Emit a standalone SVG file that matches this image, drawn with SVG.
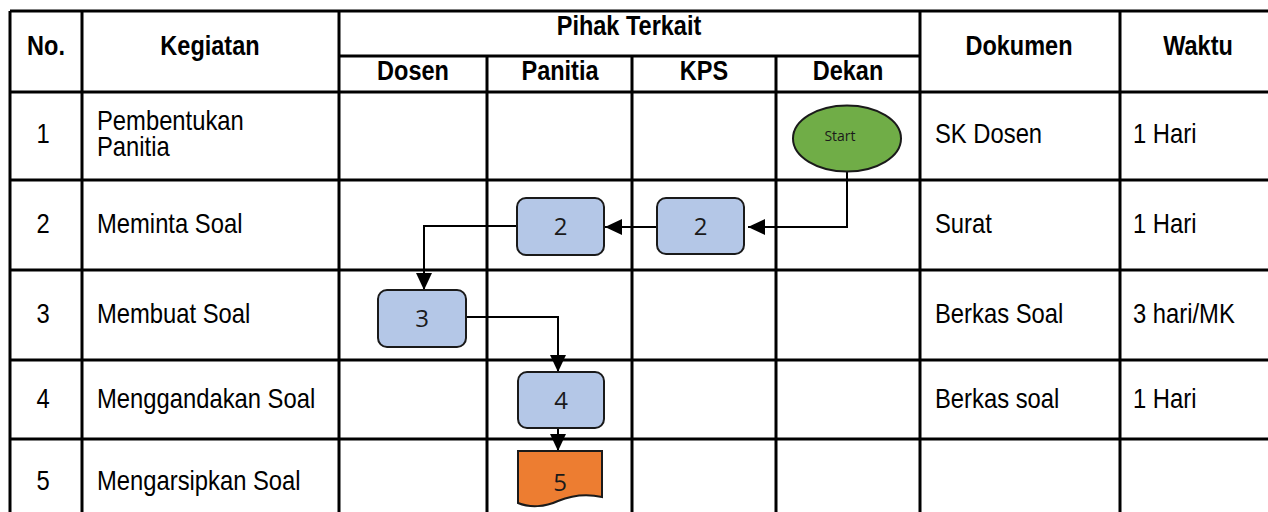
<svg xmlns="http://www.w3.org/2000/svg" width="1268" height="512" viewBox="0 0 1268 512">
<style>
.grid{stroke:#000;stroke-width:3;fill:none}
.hd{font-family:"Liberation Sans Narrow","Arial Narrow","Liberation Sans",sans-serif;font-weight:bold;font-size:28px;fill:#000;text-anchor:middle}
.tx{font-family:"Liberation Sans Narrow","Arial Narrow","Liberation Sans",sans-serif;font-size:28px;fill:#000}
.num{text-anchor:middle}
.box{fill:#B4C7E7;stroke:#1a1a1a;stroke-width:2}
.lbl{font-family:"Open Sans","Noto Sans",sans-serif;font-size:24px;fill:#1a1a1a;text-anchor:middle}
.conn{stroke:#000;stroke-width:2;fill:none}
</style>
<defs>
<marker id="arr" markerUnits="userSpaceOnUse" markerWidth="18" markerHeight="18" viewBox="0 0 18 18" refX="17" refY="9" orient="auto">
<path d="M0,1 L17,9 L0,17 Z" fill="#000"/>
</marker>
</defs>
<rect width="1268" height="512" fill="#fff"/>
<g id="table">
<path class="grid" d="M10,11 H1269 M10,11 V513 M82,11 V513 M339,11 V513 M920,11 V513 M1120,11 V513 M487,56 V513 M632,56 V513 M776,56 V513 M339,56 H920 M10,92 H1269 M10,180 H1269 M10,270 H1269 M10,360 H1269 M10,439 H1269"/>
<text class="hd" transform="translate(46,55) scale(0.84,1)">No.</text>
<text class="hd" transform="translate(210,55) scale(0.84,1)">Kegiatan</text>
<text class="hd" transform="translate(629,35) scale(0.84,1)">Pihak Terkait</text>
<text class="hd" transform="translate(413,80) scale(0.84,1)">Dosen</text>
<text class="hd" transform="translate(560,80) scale(0.84,1)">Panitia</text>
<text class="hd" transform="translate(704,80) scale(0.84,1)">KPS</text>
<text class="hd" transform="translate(848,80) scale(0.84,1)">Dekan</text>
<text class="hd" transform="translate(1019,55) scale(0.84,1)">Dokumen</text>
<text class="hd" transform="translate(1198,55) scale(0.84,1)">Waktu</text>
<text class="tx num" transform="translate(43,143) scale(0.85,1)">1</text>
<text class="tx num" transform="translate(43,233) scale(0.85,1)">2</text>
<text class="tx num" transform="translate(43,323) scale(0.85,1)">3</text>
<text class="tx num" transform="translate(43,408) scale(0.85,1)">4</text>
<text class="tx num" transform="translate(43,490) scale(0.85,1)">5</text>
<text class="tx" transform="translate(97,130) scale(0.85,1)">Pembentukan</text>
<text class="tx" transform="translate(97,156) scale(0.85,1)">Panitia</text>
<text class="tx" transform="translate(97,233) scale(0.85,1)">Meminta Soal</text>
<text class="tx" transform="translate(97,323) scale(0.85,1)">Membuat Soal</text>
<text class="tx" transform="translate(97,408) scale(0.85,1)">Menggandakan Soal</text>
<text class="tx" transform="translate(97,490) scale(0.85,1)">Mengarsipkan Soal</text>
<text class="tx" transform="translate(935,143) scale(0.85,1)">SK Dosen</text>
<text class="tx" transform="translate(935,233) scale(0.85,1)">Surat</text>
<text class="tx" transform="translate(935,323) scale(0.85,1)">Berkas Soal</text>
<text class="tx" transform="translate(935,408) scale(0.85,1)">Berkas soal</text>
<text class="tx" transform="translate(1133,143) scale(0.85,1)">1 Hari</text>
<text class="tx" transform="translate(1133,233) scale(0.85,1)">1 Hari</text>
<text class="tx" transform="translate(1133,323) scale(0.85,1)">3 hari/MK</text>
<text class="tx" transform="translate(1133,408) scale(0.85,1)">1 Hari</text>
</g>
<g id="connectors">
<path class="conn" d="M847,171 V227 H748" marker-end="url(#arr)"/>
<path class="conn" d="M657,227 H605" marker-end="url(#arr)"/>
<path class="conn" d="M517,226 H424 V290" marker-end="url(#arr)"/>
<path class="conn" d="M466,317 H558 V372" marker-end="url(#arr)"/>
<path class="conn" d="M558,428 V451" marker-end="url(#arr)"/>
</g>
<g id="start">
<ellipse cx="847" cy="138.5" rx="54" ry="33" fill="#70AD47" stroke="#1a1a1a" stroke-width="2"/>
<text x="840" y="141" font-family="Open Sans, Noto Sans, sans-serif" font-size="14" fill="#1a1a1a" text-anchor="middle">Start</text>
</g>
<g id="kps2">
<rect class="box" x="657" y="198" width="87" height="56" rx="9"/>
<text class="lbl" x="700.5" y="235">2</text>
</g>
<g id="panitia2">
<rect class="box" x="517" y="198" width="87" height="57" rx="9"/>
<text class="lbl" x="560.5" y="235">2</text>
</g>
<g id="dosen3">
<rect class="box" x="378" y="290" width="88" height="57" rx="9"/>
<text class="lbl" x="422" y="327">3</text>
</g>
<g id="panitia4">
<rect class="box" x="518" y="372" width="86" height="56" rx="9"/>
<text class="lbl" x="561" y="409">4</text>
</g>
<g id="panitia5">
<path d="M518,451 H602 V497 C585,493 570,496 558,501 C545,507 530,508 518,503 Z" fill="#ED7D31" stroke="#1a1a1a" stroke-width="2"/>
<text class="lbl" x="560" y="491">5</text>
</g>
</svg>
